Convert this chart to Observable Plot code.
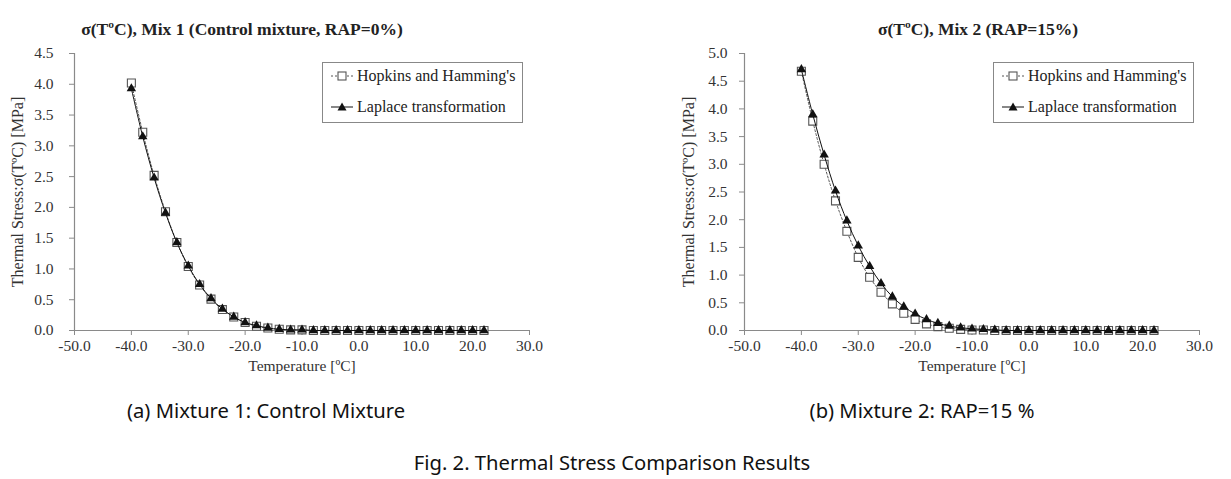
<!DOCTYPE html>
<html><head><meta charset="utf-8">
<script src="https://cdn.jsdelivr.net/npm/d3@7"></script>
<script src="https://cdn.jsdelivr.net/npm/@observablehq/plot@0.6"></script>
<style>
body{margin:0;background:#fff;}
#page{position:relative;width:1231px;height:479px;overflow:hidden;background:#fff;}
.title{position:absolute;font-family:"Liberation Serif",serif;font-weight:bold;font-size:17.5px;color:#222;white-space:nowrap;transform:translate(-50%,-50%);}
.cap{position:absolute;font-family:"Noto Sans",sans-serif;font-size:20.2px;color:#111;white-space:nowrap;transform:translate(-50%,-50%);}
.legend{position:absolute;box-sizing:border-box;border:1px solid #888;background:#fff;font-family:"Liberation Serif",serif;font-size:16px;color:#222;}
.legend .row{position:absolute;left:7px;display:flex;align-items:center;white-space:nowrap;}
.legend svg{margin-right:3px;}
.chart{position:absolute;top:0;}
</style></head>
<body><div id="page"></div>
<script>
// ---- data ----
const temperatures = [-40,-38,-36,-34,-32,-30,-28,-26,-24,-22,-20,-18,-16,-14,-12,-10,-8,-6,-4,-2,0,2,4,6,8,10,12,14,16,18,20,22];
const mix1Hopkins = [4.02,3.22,2.52,1.93,1.43,1.04,0.74,0.51,0.34,0.22,0.13,0.07,0.04,0.02,0.01,0.01,0,0,0,0,0,0,0,0,0,0,0,0,0,0,0,0];
const mix1Laplace = [3.93,3.15,2.48,1.91,1.43,1.05,0.75,0.52,0.35,0.22,0.13,0.08,0.04,0.02,0.01,0.01,0,0,0,0,0,0,0,0,0,0,0,0,0,0,0,0];
const mix2Hopkins = [4.68,3.78,3.00,2.34,1.79,1.32,0.96,0.69,0.48,0.31,0.20,0.12,0.07,0.04,0.02,0.01,0.01,0,0,0,0,0,0,0,0,0,0,0,0,0,0,0];
const mix2Laplace = [4.71,3.90,3.17,2.52,1.98,1.53,1.16,0.85,0.61,0.43,0.30,0.20,0.13,0.08,0.05,0.03,0.02,0.01,0,0,0,0,0,0,0,0,0,0,0,0,0,0];
const xTicks = [-50,-40,-30,-20,-10,0,10,20,30];
const yTicks1 = [0,0.5,1,1.5,2,2.5,3,3.5,4,4.5];
const yTicks2 = [0,0.5,1,1.5,2,2.5,3,3.5,4,4.5,5];
const seriesNames = ["Hopkins and Hamming's","Laplace transformation"];
const titles = ["σ(TºC), Mix 1 (Control mixture, RAP=0%)","σ(TºC), Mix 2 (RAP=15%)"];
const captions = ["(a) Mixture 1: Control Mixture","(b) Mixture 2: RAP=15 %"];
const figCaption = "Fig. 2. Thermal Stress Comparison Results";
const xLabel = "Temperature [ºC]";
const yLabel = "Thermal Stress:σ(TºC) [MPa]";

const page = document.getElementById("page");
const fmt = d => d.toFixed(1);
const serif = "Liberation Serif, serif";

function makeChart(hop, lap, yMax, yTicks, mLeft, mRight, ylabDx, yPad) {
  const hopData = temperatures.map((t,i)=>({t, v: hop[i]}));
  const lapData = temperatures.map((t,i)=>({t, v: lap[i]}));
  return Plot.plot({
    width: 615, height: 380,
    marginLeft: mLeft, marginRight: mRight, marginTop: 53, marginBottom: 50,
    style: {fontFamily: serif, fontSize: "15px", color: "#333", background: "white"},
    x: {domain: [-50, 30]},
    y: {domain: [0, yMax]},
    marks: [
      Plot.ruleY([0], {stroke: "#8a8a8a", strokeWidth: 1.2}),
      Plot.ruleX([-50], {stroke: "#8a8a8a", strokeWidth: 1.2}),
      Plot.axisX({ticks: xTicks, tickFormat: fmt, tickSize: 5, tickPadding: 4, stroke: "#8a8a8a", label: null, fill: "#333", fontFamily: serif, fontSize: 15.5}),
      Plot.axisY({ticks: yTicks, tickFormat: fmt, tickSize: 5, tickPadding: yPad, stroke: "#8a8a8a", label: null, fill: "#333", fontFamily: serif, fontSize: 15.5}),
      Plot.text([xLabel], {frameAnchor: "bottom", dy: 40, fill: "#333", fontFamily: serif, fontSize: 15.5}),
      Plot.text([yLabel], {frameAnchor: "left", textAnchor: "middle", rotate: -90, dx: ylabDx, fill: "#333", fontFamily: serif, fontSize: 16}),
      Plot.line(hopData, {x: "t", y: "v", curve: "catmull-rom", stroke: "#555", strokeWidth: 1, strokeDasharray: "2,2"}),
      Plot.dot(hopData, {x: "t", y: "v", symbol: "square", r: 4.5, fill: "white", stroke: "#555", strokeWidth: 1.1}),
      Plot.line(lapData, {x: "t", y: "v", curve: "catmull-rom", stroke: "#111", strokeWidth: 1}),
      Plot.dot(lapData, {x: "t", y: "v", symbol: "triangle", r: 3.5, fill: "#111", stroke: "none"})
    ]
  });
}

function addDiv(cls, text, x, y) {
  const d = document.createElement("div");
  d.className = cls; d.textContent = text;
  d.style.left = x + "px"; d.style.top = y + "px";
  page.appendChild(d);
  return d;
}

function addLegend(x, y) {
  const box = document.createElement("div");
  box.className = "legend";
  box.style.left = x + "px"; box.style.top = y + "px";
  box.style.width = "201px"; box.style.height = "61px";
  const sym = [
    '<svg width="24" height="14"><line x1="1" x2="23" y1="7" y2="7" stroke="#555" stroke-dasharray="2,2"/><rect x="8" y="3" width="8" height="8" fill="white" stroke="#555" stroke-width="1.1"/></svg>',
    '<svg width="24" height="14"><line x1="1" x2="23" y1="7" y2="7" stroke="#111"/><path d="M12,2.5L16.5,10.5L7.5,10.5Z" fill="#111"/></svg>'
  ];
  seriesNames.forEach((n,i)=>{
    const r = document.createElement("div");
    r.className = "row";
    r.style.top = (i===0 ? 4 : 35) + "px";
    r.innerHTML = sym[i] + "<span>" + n + "</span>";
    box.appendChild(r);
  });
  page.appendChild(box);
}

const c1 = makeChart(mix1Hopkins, mix1Laplace, 4.5, yTicks1, 74, 86, -57, 16);
c1.classList.add("chart"); c1.style.left = "0px";
page.appendChild(c1);
const c2 = makeChart(mix2Hopkins, mix2Laplace, 5, yTicks2, 128, 32, -56, 12);
c2.classList.add("chart"); c2.style.left = "616px";
page.appendChild(c2);

addLegend(322, 62);
addLegend(993, 62);
addDiv("title", titles[0], 242, 29);
addDiv("title", titles[1], 978, 29);
addDiv("cap", captions[0], 266, 410);
addDiv("cap", captions[1], 922, 410);
addDiv("cap", figCaption, 612, 462);
</script>
</body></html>
